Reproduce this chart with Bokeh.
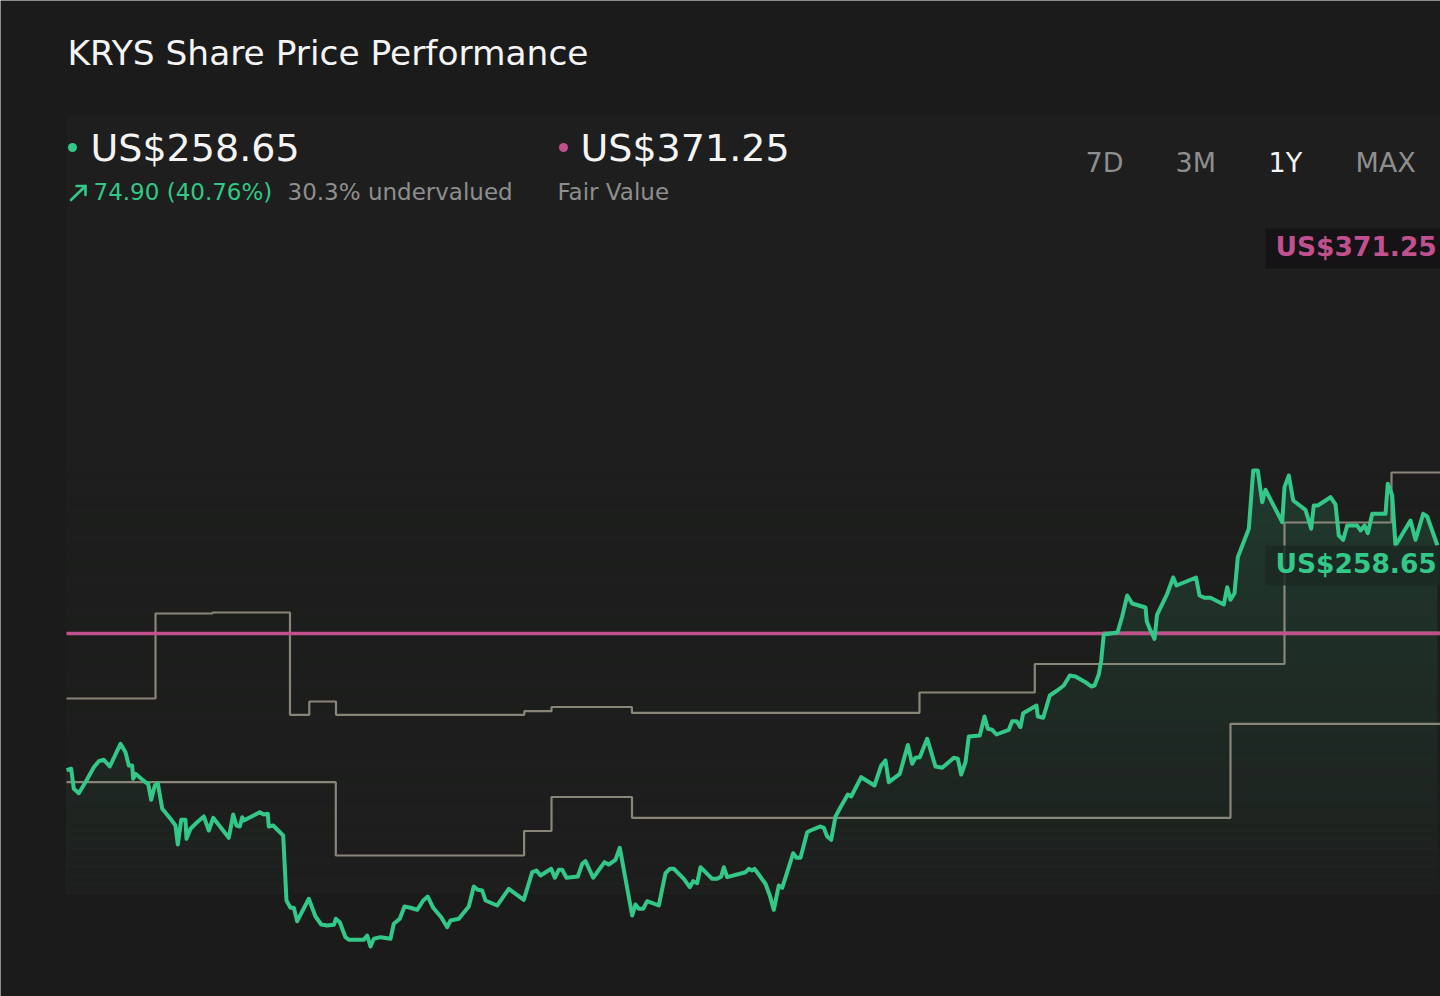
import numpy as np
from bokeh.plotting import figure
from bokeh.models import Range1d
from bokeh.core.properties import value
from bokeh.embed import file_html
from bokeh.resources import INLINE

# ---------------- data ----------------
# day offset within the 1-year window, and share price in US$
days = [0.0, 1.25, 1.94, 3.27, 5.06, 7.27, 8.60, 9.93, 11.53, 14.38, 15.71, 16.59, 17.49, 17.76,
        18.37, 21.03, 21.75, 22.55, 23.51, 24.31, 25.48, 27.69, 29.02, 29.63, 30.54, 31.68, 31.95,
        33.01, 34.80, 36.56, 37.89, 39.06, 43.21, 44.38, 45.26, 46.14, 46.78, 47.20, 51.46, 52.53,
        53.59, 53.86, 55.03, 57.69, 58.57, 59.64, 60.52, 61.42, 64.51, 66.29, 67.81, 69.41, 71.22,
        71.70, 72.76, 74.28, 75.16, 79.15, 80.06, 80.94, 81.82, 83.60, 86.26, 87.14, 88.74, 89.99,
        91.59, 93.37, 94.97, 96.19, 97.63, 99.76, 101.36, 102.24, 104.45, 107.11, 108.44, 109.50,
        110.68, 111.55, 114.67, 117.76, 121.75, 123.99, 125.13, 126.20, 129.05, 130.01, 131.07,
        131.98, 133.12, 136.13, 137.30, 138.18, 140.23, 143.24, 144.38, 146.17, 147.31, 150.61,
        151.49, 152.37, 153.54, 154.61, 157.69, 159.48, 160.62, 161.69, 164.35, 165.95, 166.85,
        167.92, 168.80, 171.91, 173.24, 174.31, 175.00, 175.90, 180.78, 181.66, 182.56, 183.17,
        186.10, 187.25, 188.31, 189.64, 190.55, 193.48, 194.36, 195.42, 197.20, 198.08, 200.75,
        201.62, 202.53, 203.59, 204.74, 206.07, 208.01, 208.92, 211.58, 215.12, 216.91, 218.05,
        218.93, 221.86, 223.99, 225.16, 226.04, 227.18, 229.15, 231.36, 233.15, 236.24, 237.30,
        238.21, 239.35, 240.23, 243.16, 244.41, 245.29, 246.46, 247.60, 250.88, 251.78, 252.93,
        253.99, 254.71, 258.25, 258.60, 260.04, 261.79, 263.76, 265.52, 267.12, 268.64, 271.30,
        272.82, 273.70, 274.84, 275.48, 276.17, 279.82, 281.07, 282.40, 283.73, 287.27, 287.62,
        288.60, 289.67, 290.34, 293.05, 294.65, 295.53, 300.72, 301.65, 302.98, 304.58, 308.12,
        309.03, 309.90, 310.97, 311.85, 314.78, 315.95, 317.17, 318.34, 319.22, 323.67, 324.28,
        325.43, 326.60, 329.87, 331.39, 332.08, 333.15, 336.53, 337.86, 338.74, 339.91, 340.98,
        343.64, 344.52, 345.58, 346.46, 347.63, 351.17, 351.78, 352.96, 353.83, 357.83, 359.16,
        361.21, 362.27, 365.0]
price = [183.75, 184.22, 177.55, 176.09, 179.75, 184.75, 186.75, 187.22, 184.99, 192.55, 189.75,
         185.32, 185.32, 180.89, 182.55, 179.75, 179.22, 173.89, 178.65, 179.42, 170.89, 167.55,
         165.32, 158.99, 167.22, 167.22, 160.89, 164.22, 166.42, 168.32, 163.65, 167.89, 161.22,
         168.99, 165.32, 164.99, 168.09, 166.99, 169.75, 168.99, 169.22, 164.99, 165.32, 161.99,
         140.32, 137.89, 137.89, 133.42, 140.89, 134.99, 132.32, 131.99, 132.22, 134.22, 133.09,
         128.09, 127.22, 127.22, 128.65, 124.99, 127.55, 128.09, 127.55, 132.55, 134.22, 138.32,
         137.89, 137.22, 140.32, 141.65, 137.89, 134.75, 131.42, 133.65, 134.22, 138.32, 144.99,
         143.89, 143.65, 140.32, 138.65, 144.22, 140.55, 149.75, 150.32, 148.65, 150.89, 147.89,
         150.55, 150.55, 147.89, 148.32, 152.55, 153.42, 147.89, 153.09, 152.32, 153.89, 157.89,
         135.32, 138.99, 137.55, 137.55, 140.09, 138.65, 149.42, 150.89, 150.89, 147.55, 144.75,
         146.75, 146.09, 151.42, 147.55, 147.55, 148.32, 151.42, 148.09, 149.75, 150.89, 150.32,
         150.89, 145.89, 141.99, 137.22, 145.32, 144.55, 156.09, 154.55, 154.55, 163.09, 163.65,
         164.99, 164.55, 161.65, 160.55, 168.32, 171.42, 175.65, 174.99, 181.42, 178.65, 185.32,
         186.99, 179.75, 182.55, 192.15, 185.89, 187.89, 188.09, 194.22, 184.99, 184.55, 187.89,
         187.55, 182.32, 186.42, 194.99, 195.32, 201.65, 197.55, 197.22, 195.65, 197.22, 200.09,
         200.09, 198.09, 202.75, 205.32, 201.65, 201.22, 208.65, 210.32, 211.99, 215.32, 214.99,
         213.09, 211.65, 211.99, 215.65, 220.32, 228.99, 229.65, 234.99, 241.99, 239.32, 237.99,
         233.32, 230.32, 227.55, 235.49, 242.55, 247.99, 245.32, 247.99, 241.99, 241.22, 241.22,
         238.99, 244.75, 240.55, 242.75, 254.75, 264.22, 283.65, 283.65, 273.09, 277.22, 266.42,
         278.09, 281.99, 273.65, 270.55, 264.22, 271.99, 271.99, 274.75, 272.32, 261.99, 260.55,
         265.32, 265.32, 263.65, 265.32, 262.75, 269.22, 269.22, 279.22, 275.32, 258.65, 266.99,
         260.55, 269.22, 268.32, 258.65]

# grey step series (upper, lower, and a late one)
upper_days = [0.0, 23.70, 38.87, 59.50, 64.64, 71.75, 121.88, 129.13, 150.53, 227.10, 257.80,
              324.28, 352.77]
upper_vals = [207.65, 235.99, 236.32, 202.22, 206.65, 202.22, 203.42, 204.82, 202.89, 209.65,
              219.15, 266.32, 282.99]
lower_days = [0.0, 71.70, 121.83, 129.13, 150.56, 309.90]
lower_vals = [179.75, 155.32, 163.49, 174.82, 167.89, 199.22]
late_days = [275.96]
late_vals = [229.65]

fair_line_level = 229.32

last_price = 258.65
fair_value = 371.25
change = 74.90
change_pct = 40.76
undervalued_pct = 30.3
periods = ["7D", "3M", "1Y", "MAX"]
active_period = "1Y"
title = "KRYS Share Price Performance"

# ---------------- layout / style ----------------
W, H = 1440, 996
ORIGIN = 0            # page pixel where the figure starts
PX_PER_DAY = 3.756
PX_PER_USD = 3.0
DAY0_PX = 66          # page x of day 0
LAST_PX_Y = 545       # page y of the last price

BG = "#1b1b1b"
PANEL = "#1d1e1d"
GREEN = "#33c887"
MAGENTA = "#c1508e"
STEP_GREY = "#8a8579"
MUTED = "#8e8e8e"
WHITE = "#f4f4f4"
FONT = value("DejaVu Sans")

x_start = -(DAY0_PX - ORIGIN) / PX_PER_DAY
x_end = x_start + W / PX_PER_DAY
y_top = last_price + (LAST_PX_Y - ORIGIN) / PX_PER_USD
y_bot = y_top - H / PX_PER_USD


def sx(px):
    return x_start + (px - ORIGIN) / PX_PER_DAY


def sy(py):
    return y_top - (py - ORIGIN) / PX_PER_USD


p = figure(width=W, height=H, x_range=Range1d(x_start, x_end), y_range=Range1d(y_bot, y_top),
           toolbar_location=None, output_backend="svg", min_border=0,
           x_axis_location=None, y_axis_location=None)
p.grid.visible = False
p.outline_line_color = None
p.background_fill_color = BG
p.border_fill_color = BG

pr = np.array(price)
base = sy(893)
top_val = pr.max()

# faint panel behind the chart
p.quad(left=[days[0]], right=[x_end + 5], bottom=[base], top=[sy(115)],
       fill_color=PANEL, line_color=None)

# area under the price line, faded towards the bottom
p.varea(x=days, y1=np.full_like(pr, base), y2=np.maximum(pr, base),
        fill_color=GREEN, fill_alpha=0.17)
nb = 47
edges = np.linspace(base, top_val, nb + 1)
lefts, rights, bots, tops, alphas = [], [], [], [], []
for i in range(nb):
    lo, hi = edges[i], edges[i + 1]
    f = ((lo + hi) / 2 - base) / (top_val - base)
    lefts.append(days[0]); rights.append(x_end + 5)
    bots.append(lo); tops.append(hi); alphas.append(1 - f)
p.quad(left=lefts, right=rights, bottom=bots, top=tops, fill_color=PANEL,
       fill_alpha=alphas, line_color=None)

# grey step lines
for sd, sv in [(upper_days, upper_vals), (lower_days, lower_vals), (late_days, late_vals)]:
    p.step(x=sd + [x_end + 5], y=sv + [sv[-1]], mode="after",
           line_color=STEP_GREY, line_width=2.2)

# fair value reference line
p.line(x=[days[0], x_end + 5], y=[fair_line_level, fair_line_level],
       line_color=MAGENTA, line_width=3.5)

# price line
p.line(x=days, y=price, line_color=GREEN, line_width=4, line_join="round")

# right-hand value tags
p.quad(left=[sx(1265)], right=[sx(1460)], bottom=[sy(268)], top=[sy(228)],
       fill_color="#151315", line_color=None)
p.quad(left=[sx(1265)], right=[sx(1460)], bottom=[sy(585)], top=[sy(545)],
       fill_color="#1b2a23", fill_alpha=0.85, line_color=None)


def put(px, py, txt, color, size, style="normal"):
    # py is the visual centre line of the text
    p.text(x=[sx(px)], y=[sy(py)], text=[txt], text_color=color, text_font=FONT,
           text_font_size=value(size), text_font_style=style, text_baseline="alphabetic",
           text_align="left")


put(1275, 246, f"US${fair_value:.2f}", MAGENTA, "26.5px", "bold")
put(1275, 563, f"US${last_price:.2f}", GREEN, "26.5px", "bold")

# header texts
put(67, 52, title, WHITE, "34.4px")
p.scatter(x=[sx(72), sx(563)], y=[sy(147), sy(147)], size=9,
          fill_color=[GREEN, MAGENTA], line_color=None)
put(90, 147, f"US${last_price:.2f}", WHITE, "38px")
put(580, 147, f"US${fair_value:.2f}", WHITE, "38px")

# "up" arrow icon next to the change
p.multi_line(xs=[[sx(70.5), sx(85)], [sx(76), sx(85), sx(85)]],
             ys=[[sy(199.5), sy(185.5)], [sy(185.5), sy(185.5), sy(194.5)]],
             line_color=GREEN, line_width=2.6, line_cap="round", line_join="round")

put(93, 191, f"{change:.2f} ({change_pct:.2f}%)", GREEN, "23px")
put(287, 191, f"{undervalued_pct}% undervalued", MUTED, "23px")
put(557, 191, "Fair Value", MUTED, "23px")

for px, lab in zip([1085, 1175, 1268, 1355], periods):
    put(px, 162, lab, WHITE if lab == active_period else MUTED, "27px")

open("out.html", "w").write(file_html(p, INLINE))
